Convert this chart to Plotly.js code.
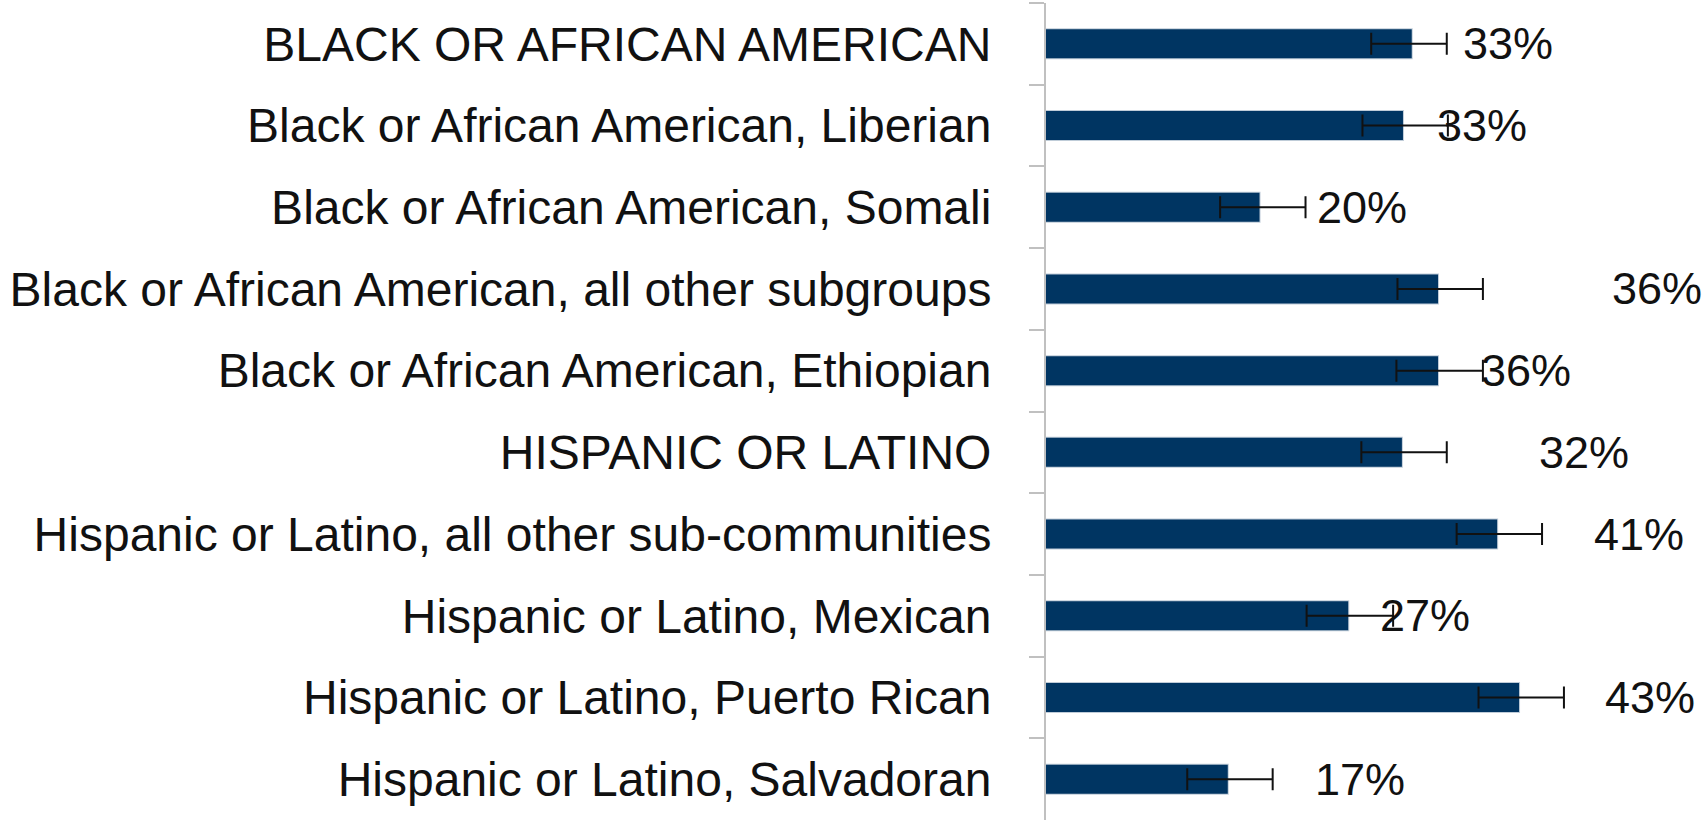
<!DOCTYPE html>
<html>
<head>
<meta charset="utf-8">
<script src="https://cdn.plot.ly/plotly-3.0.1.min.js"></script>
<style>html,body{margin:0;padding:0;background:#fff;}#chart{width:1703px;height:828px;}</style>
</head>
<body>
<div id="chart"></div>
<script>
var categories = [
  "BLACK OR AFRICAN AMERICAN",
  "Black or African American, Liberian",
  "Black or African American, Somali",
  "Black or African American, all other subgroups",
  "Black or African American, Ethiopian",
  "HISPANIC OR LATINO",
  "Hispanic or Latino, all other sub-communities",
  "Hispanic or Latino, Mexican",
  "Hispanic or Latino, Puerto Rican",
  "Hispanic or Latino, Salvadoran"
];
var values = [33.4, 32.6, 19.5, 35.8, 35.8, 32.5, 41.2, 27.6, 43.2, 16.6];
var errPlus = [3.2, 4.1, 4.2, 4.1, 4.1, 4.1, 4.1, 4.1, 4.1, 4.1];
var errMinus = [3.7, 3.7, 3.6, 3.7, 3.8, 3.7, 3.7, 3.8, 3.7, 3.7];
var labels = ["33%", "33%", "20%", "36%", "36%", "32%", "41%", "27%", "43%", "17%"];

// label placement (data units along x) as in the original, manually positioned labels
var labelX = [42.2, 39.8, 28.9, 55.8, 43.8, 49.1, 54.2, 34.6, 55.2, 28.7];

var FONT = "'Liberation Sans', Arial, sans-serif";

var trace = {
  type: "bar",
  orientation: "h",
  x: values,
  y: categories,
  marker: {color: "#003562", line: {color: "rgba(0,53,98,0.25)", width: 2}},
  error_x: {
    type: "data",
    symmetric: false,
    array: errPlus,
    arrayminus: errMinus,
    color: "#111111",
    thickness: 2,
    width: 11
  },
  hoverinfo: "none"
};

var annotations = labels.map(function (t, i) {
  return {
    x: labelX[i], y: categories[i], xref: "x", yref: "y",
    text: t, showarrow: false, xanchor: "center", yanchor: "middle",
    font: {family: FONT, size: 45, color: "#111111"}
  };
});

var layout = {
  width: 1703,
  height: 828,
  margin: {l: 1046, r: 0, t: 3, b: 8, pad: 0},
  paper_bgcolor: "#ffffff",
  plot_bgcolor: "#ffffff",
  showlegend: false,
  bargap: 0.645,
  xaxis: {
    range: [0, 60.0],
    visible: false,
    fixedrange: true
  },
  yaxis: {
    type: "category",
    autorange: "reversed",
    automargin: false,
    showline: true,
    linecolor: "#c0c0c0",
    linewidth: 2,
    ticks: "outside",
    tickson: "boundaries",
    ticklen: 15,
    tickwidth: 2,
    tickcolor: "#c0c0c0",
    ticklabelstandoff: 43,
    showgrid: false,
    zeroline: false,
    tickfont: {family: FONT, size: 48, color: "#111111"}
  },
  annotations: annotations
};

Plotly.newPlot("chart", [trace], layout, {staticPlot: true, displayModeBar: false});
</script>
</body>
</html>
